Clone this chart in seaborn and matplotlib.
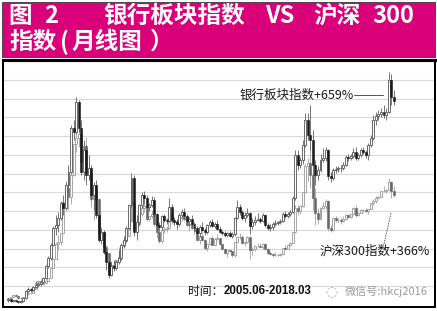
import numpy as np
import pandas as pd
import matplotlib
matplotlib.use("Agg")
import matplotlib.pyplot as plt
import seaborn as sns
from matplotlib.patches import Rectangle

# ---------------- data (monthly candles, 2005-06 .. 2018-03) ----------------
months = pd.period_range("2005-06", "2018-03", freq="M").astype(str).tolist()

bank_open0 = 300
bank_close = [310, 290, 300, 290, 280, 290, 320,
              390, 410, 400, 430, 450, 460, 480, 520, 640, 720, 850, 1020,
              1050, 1120, 1270, 1220, 1450, 1580, 2020, 1980, 2280, 2020, 1580, 1800,
              1550, 1620, 1350, 1450, 1150, 900, 980, 780, 680, 550, 640, 620,
              680, 720, 850, 900, 1020, 1250, 1520, 980, 1080, 1250, 1350, 1320,
              1230, 1250, 1300, 1160, 1050, 1030, 1140, 1100, 1090, 1230, 1100, 1080,
              1060, 1150, 1180, 1140, 1090, 1110, 1060, 1020, 970, 1030, 1000, 980,
              1050, 1080, 1040, 1060, 1010, 980, 970, 950, 970, 940, 960, 1120,
              1230, 1180, 1120, 1150, 1170, 1040, 1080, 1100, 1110, 1090, 1150, 1050,
              1020, 1030, 1060, 1070, 1080, 1090, 1160, 1140, 1160, 1180, 1320, 1750,
              1650, 1700, 1850, 2100, 1950, 1900, 1650, 1550, 1600, 1700, 1720, 1800,
              1540, 1520, 1600, 1610, 1620, 1620, 1650, 1730, 1720, 1740, 1780, 1720,
              1750, 1800, 1780, 1750, 1850, 1920, 2100, 2140, 2160, 2180, 2150, 2180,
              2500, 2330, 2290]
bank_high = [320, 315, 305, 305, 295, 300, 325,
             400, 430, 425, 445, 480, 480, 490, 530, 650, 740, 870, 1040,
             1150, 1180, 1290, 1350, 1480, 1650, 2050, 2100, 2330, 2300, 2100, 1900,
             1850, 1750, 1650, 1480, 1500, 1170, 1020, 1000, 820, 700, 680, 700,
             700, 800, 870, 940, 1040, 1260, 1570, 1550, 1150, 1260, 1380, 1390,
             1350, 1270, 1340, 1330, 1170, 1080, 1150, 1160, 1120, 1320, 1260, 1130,
             1110, 1170, 1210, 1220, 1160, 1130, 1150, 1080, 1040, 1050, 1080, 1020,
             1060, 1100, 1110, 1080, 1100, 1040, 1000, 990, 980, 990, 980, 1130,
             1300, 1260, 1200, 1180, 1220, 1180, 1120, 1140, 1170, 1130, 1170, 1160,
             1070, 1060, 1080, 1100, 1090, 1110, 1180, 1190, 1180, 1200, 1340, 1800,
             1800, 1730, 1900, 2170, 2170, 2250, 2000, 1700, 1640, 1760, 1820, 1830,
             1810, 1580, 1620, 1640, 1640, 1650, 1680, 1750, 1760, 1760, 1820, 1830,
             1770, 1820, 1830, 1800, 1870, 1950, 2150, 2180, 2200, 2220, 2250, 2220,
             2580, 2560, 2400]
bank_low = [285, 285, 285, 280, 270, 275, 285,
            315, 380, 385, 395, 420, 430, 440, 470, 510, 620, 700, 840,
            950, 980, 1100, 1150, 1200, 1380, 1560, 1900, 1950, 1980, 1550, 1500,
            1450, 1500, 1300, 1200, 1120, 880, 860, 760, 600, 520, 540, 590,
            600, 660, 700, 820, 880, 1000, 1230, 940, 900, 1050, 1220, 1260,
            1200, 1190, 1230, 1140, 990, 990, 1000, 1080, 1060, 1080, 1080, 1050,
            1020, 1040, 1130, 1120, 1070, 1040, 1040, 990, 950, 930, 990, 950,
            960, 1030, 1030, 1020, 1000, 970, 950, 930, 930, 930, 920, 940,
            1110, 1150, 1100, 1080, 1130, 960, 1010, 1050, 1090, 1070, 1080, 1030,
            1000, 990, 1000, 1040, 1050, 1060, 1080, 1120, 1120, 1140, 1170, 1300,
            1600, 1620, 1660, 1830, 1900, 1800, 1550, 1450, 1500, 1580, 1680, 1690,
            1500, 1480, 1500, 1570, 1580, 1580, 1600, 1640, 1690, 1700, 1720, 1700,
            1700, 1730, 1760, 1720, 1700, 1830, 1900, 2050, 2100, 2130, 2120, 2100,
            2170, 2250, 2250]

csi_open0 = 850
csi_close = [910, 911, 970, 955, 903, 904, 923,
             1000, 1029, 1040, 1165, 1339, 1399, 1313, 1346, 1400, 1484, 1784, 2041,
             2469, 2525, 2782, 3694, 4112, 3836, 4471, 5390, 5574, 5688, 4858, 5338,
             4572, 4553, 3790, 4075, 3773, 2759, 2806, 2384, 2195, 1663, 1872, 1817,
             1990, 2082, 2413, 2544, 2704, 3139, 3707, 2921, 3051, 3333, 3524, 3575,
             3204, 3281, 3358, 3067, 2816, 2563, 2868, 2903, 2935, 3386, 3145, 3128,
             3077, 3239, 3263, 3200, 3037, 3044, 2937, 2858, 2590, 2696, 2597, 2346,
             2464, 2635, 2455, 2627, 2640, 2462, 2332, 2204, 2293, 2254, 2139, 2523,
             2688, 2673, 2495, 2518, 2668, 2297, 2322, 2409, 2409, 2378, 2478, 2331,
             2202, 2178, 2146, 2158, 2160, 2165, 2352, 2326, 2450, 2508, 2808, 3533,
             3434, 3572, 3972, 4749, 4841, 4473, 3817, 3367, 3203, 3534, 3566, 3731,
             2946, 2877, 3218, 3156, 3169, 3154, 3203, 3325, 3253, 3336, 3534, 3310,
             3387, 3452, 3456, 3439, 3493, 3666, 3737, 3822, 3837, 4006, 4006, 4030,
             4275, 4023, 3899]
csi_high = [935, 925, 990, 1000, 960, 920, 930,
            1005, 1070, 1050, 1170, 1380, 1420, 1460, 1360, 1410, 1490, 1790, 2060,
            2530, 2720, 2800, 3700, 4300, 4230, 4480, 5400, 5620, 5891, 5700, 5400,
            5600, 4900, 4600, 4120, 4200, 3800, 2980, 2850, 2450, 2200, 1960, 1980,
            2000, 2390, 2450, 2640, 2750, 3150, 3750, 3800, 3180, 3340, 3600, 3640,
            3660, 3300, 3450, 3500, 3080, 2850, 2890, 2980, 2990, 3450, 3600, 3240,
            3180, 3290, 3320, 3350, 3230, 3090, 3130, 2970, 2900, 2720, 2830, 2610,
            2470, 2660, 2700, 2650, 2750, 2650, 2480, 2360, 2300, 2330, 2270, 2530,
            2700, 2790, 2720, 2560, 2690, 2690, 2370, 2450, 2500, 2500, 2500, 2510,
            2350, 2270, 2200, 2250, 2190, 2200, 2360, 2430, 2470, 2520, 2810, 3600,
            3600, 3600, 4000, 4800, 4990, 5380, 4640, 4100, 3530, 3560, 3700, 3780,
            3740, 3030, 3260, 3280, 3220, 3220, 3300, 3350, 3340, 3350, 3560, 3600,
            3390, 3490, 3500, 3510, 3500, 3670, 3790, 3860, 3860, 4020, 4150, 4070,
            4400, 4300, 4150]
csi_low = [807, 850, 900, 940, 880, 880, 890,
           920, 990, 1000, 1040, 1160, 1280, 1290, 1270, 1330, 1390, 1480, 1780,
           2040, 2300, 2440, 2780, 3650, 3450, 3650, 4450, 5150, 5300, 4550, 4780,
           4300, 4350, 3550, 3170, 3600, 2650, 2650, 2270, 1950, 1600, 1630, 1740,
           1800, 1990, 2000, 2380, 2520, 2680, 3100, 2810, 2700, 3000, 3300, 3400,
           3150, 3150, 3220, 3000, 2650, 2500, 2500, 2800, 2820, 2900, 3040, 3030,
           2890, 3020, 3150, 3150, 3000, 2850, 2900, 2750, 2570, 2470, 2570, 2290,
           2270, 2450, 2430, 2420, 2580, 2440, 2310, 2190, 2100, 2240, 2100, 2100,
           2510, 2610, 2480, 2410, 2500, 2020, 2160, 2280, 2390, 2370, 2330, 2300,
           2170, 2140, 2100, 2120, 2120, 2130, 2160, 2310, 2320, 2400, 2490, 2800,
           3330, 3350, 3560, 3960, 4320, 4100, 3470, 3020, 3050, 3190, 3500, 3500,
           2840, 2810, 2840, 3100, 3070, 3050, 3120, 3180, 3220, 3220, 3330, 3250,
           3290, 3380, 3400, 3400, 3350, 3480, 3620, 3660, 3800, 3830, 3990, 3950,
           4030, 3800, 3850]

# title pieces (line 1 reads "图 2  银行板块指数 VS 沪深 300")
title_line1_parts = ["图", "2", "银行板块指数", "VS", "沪深", "300"]
title_line2_parts = ["指数", "(", "月线图", "）"]
bank_label = "银行板块指数+659%"
csi_label = "沪深300指数+366%"
period_head = "时间："
period_span = "2005.06-2018.03"
watermark = "微信号:hkcj2016"

# ---------------- figure ----------------
sns.set_style("white")
plt.rcParams["font.family"] = ["Noto Sans CJK SC", "DejaVu Sans"]

W, H = 437, 311
fig = plt.figure(figsize=(W / 100, H / 100), dpi=100)
fig.patch.set_facecolor("white")

def fx(px):
    return px / W

def fy(py):
    return 1 - py / H

# title band
fig.patches.append(Rectangle((fx(2), fy(57)), fx(433), 55 / H, transform=fig.transFigure,
                             facecolor="#D9007A", edgecolor="#3a3a3a", linewidth=0.6, zorder=0))
line1_x = [8, 44, 103, 265, 313, 372]
for s, px in zip(title_line1_parts, line1_x):
    fig.text(fx(px), fy(16), s, color="white", fontsize=17, fontweight="bold",
             va="center", ha="left")
line2_x = [9, 60, 72, 150]
for s, px in zip(title_line2_parts, line2_x):
    fig.text(fx(px), fy(42), s, color="white", fontsize=17, fontweight="bold",
             va="center", ha="left")

# axes
ax = fig.add_axes([fx(3), 4 / H, 432 / W, 247 / H])
ax2 = ax.twinx()

x = np.arange(len(months))
px_per_month = 2.52
ax.set_xlim(-(8 - 3) / px_per_month, 153 + (435 - 393.6) / px_per_month)

csi_lim = (633, 7835)
bank_lim = (230, 2700)
ax.set_ylim(*csi_lim)
ax2.set_ylim(*bank_lim)

# horizontal grid lines
fr = np.array([(307 - (61 + 18.77 * n)) / 247 for n in range(1, 13)])
ax.set_yticks(csi_lim[0] + fr * (csi_lim[1] - csi_lim[0]))
ax.yaxis.grid(True, color="#d9d9d9", linewidth=0.8)
ax.xaxis.grid(False)
ax.set_axisbelow(True)
for a in (ax, ax2):
    a.tick_params(left=False, right=False, bottom=False, top=False,
                  labelleft=False, labelright=False, labelbottom=False)
    for s in a.spines.values():
        s.set_color("black")
        s.set_linewidth(1.4)
    a.spines["top"].set_linewidth(2.2)
ax2.grid(False)


def candles(a, o0, close, high, low, up_edge, down_col, wick_col, z):
    c = np.asarray(close, float)
    o = np.concatenate([[o0], c[:-1]])
    h = np.asarray(high, float)
    l = np.asarray(low, float)
    up = c >= o
    a.vlines(x, l, h, color=wick_col, linewidth=0.6, zorder=z)
    a.bar(x[up], (c - o)[up], bottom=o[up], width=0.78, facecolor="white",
          edgecolor=up_edge, linewidth=0.65, zorder=z + 0.1)
    a.bar(x[~up], (o - c)[~up], bottom=c[~up], width=0.78, facecolor=down_col,
          edgecolor=down_col, linewidth=0.4, zorder=z + 0.1)


candles(ax, csi_open0, csi_close, csi_high, csi_low, "#a0a0a0", "#666666", "#a0a0a0", 3)
candles(ax2, bank_open0, bank_close, bank_high, bank_low, "#606060", "#1a1a1a", "#606060", 3)

# annotations (pixel-placed)
fig.text(fx(240), fy(95), bank_label, fontsize=9, color="#1a1a1a", va="center", ha="left")
fig.add_artist(plt.Line2D([fx(354), fx(383)], [fy(94.5), fy(94.5)], color="#555555",
                          linewidth=0.7, transform=fig.transFigure))
fig.text(fx(320), fy(251), csi_label, fontsize=9, color="#1a1a1a", va="center", ha="left")
fig.add_artist(plt.Line2D([fx(391), fx(384)], [fy(213), fy(244)], color="#555555",
                          linewidth=0.6, linestyle=(0, (2, 1)), transform=fig.transFigure))

fig.text(fx(188), fy(291), period_head, fontsize=8.5, color="#111111", va="center", ha="left")
fig.text(fx(224), fy(291), period_span, fontsize=8.3, color="#111111", va="center", ha="left",
         fontweight="bold", family=["Liberation Sans", "DejaVu Sans"])
fig.text(fx(331), fy(291), "◌", fontsize=10, color="#b0b0b0", va="center", ha="center",
         family=["DejaVu Sans"])
fig.text(fx(345), fy(291), watermark, fontsize=8, color="#9a9a9a", va="center", ha="left")

fig.savefig("out.png", dpi=100)
